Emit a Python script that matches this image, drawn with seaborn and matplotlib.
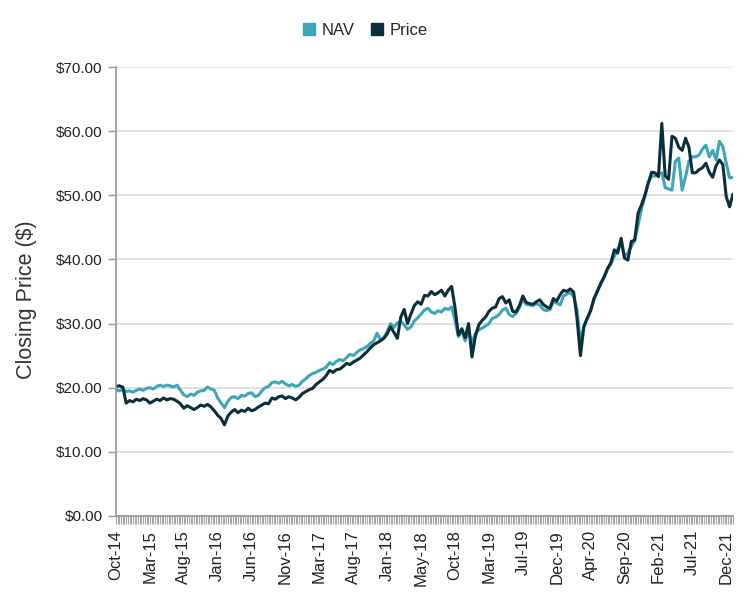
import numpy as np
import pandas as pd
import matplotlib
matplotlib.use("Agg")
import matplotlib.pyplot as plt
import seaborn as sns
from matplotlib.ticker import MultipleLocator, FuncFormatter
from matplotlib.lines import Line2D

tick_labels = ["Oct-14", "Mar-15", "Aug-15", "Jan-16", "Jun-16", "Nov-16", "Mar-17",
               "Aug-17", "Jan-18", "May-18", "Oct-18", "Mar-19", "Jul-19", "Dec-19",
               "Apr-20", "Sep-20", "Feb-21", "Jul-21", "Dec-21"]

nav = [
    19.7, 19.5, 19.8, 19.4, 19.5, 19.3, 19.6, 19.8, 19.6, 19.9,
    20.0, 19.8, 20.2, 20.4, 20.2, 20.4, 20.3, 20.1, 20.4, 19.6,
    18.9, 18.6, 19.0, 18.8, 19.3, 19.5, 19.6, 20.1, 19.8, 19.6,
    18.4, 17.6, 16.9, 17.9, 18.5, 18.6, 18.3, 18.8, 18.7, 19.1,
    19.2, 18.6, 18.8, 19.5, 20.0, 20.2, 20.8, 20.9, 20.7,
    21.0, 20.6, 20.3, 20.5, 20.2, 20.4, 21.0, 21.4, 21.9, 22.2,
    22.4, 22.7, 22.9, 23.2, 23.9, 23.6, 24.1, 24.4, 24.2, 24.7,
    25.2, 25.0, 25.5, 25.9, 26.1, 26.4, 26.9, 27.3, 28.5, 27.5,
    27.8, 28.8, 30.0, 29.4, 30.1, 30.3, 29.8, 29.1, 29.5, 30.4,
    30.9, 31.5, 32.1, 32.4, 31.8, 31.6, 32.0, 31.8, 32.4, 32.2,
    32.6, 30.5, 28.0, 28.8, 27.3, 28.8, 26.9, 28.5, 29.0, 29.3,
    29.6, 30.0, 30.8, 31.0, 31.4, 32.1, 32.4, 31.4, 31.1, 31.6,
    32.5, 33.8, 33.0, 32.9, 32.8, 33.1, 32.9, 32.2, 32.0,
    32.2, 33.4, 33.2, 32.9, 34.3, 34.6, 34.8, 34.2, 32.1, 27.0,
    29.5, 30.9, 32.0, 33.8, 35.2, 36.1, 37.2, 38.5, 39.3, 40.5,
    41.6, 42.5, 40.5, 41.0, 42.0, 43.0, 45.3, 47.9, 49.8, 52.0,
    53.0, 53.0, 53.3, 53.5, 51.2, 51.0, 50.8, 55.3, 55.8, 50.8,
    52.9, 55.3, 56.0, 56.0, 56.3, 57.2, 57.8, 56.0, 57.0, 55.5,
    58.4, 57.6, 55.0, 52.7, 52.8,
]

price = [
    20.2, 20.3, 20.1, 17.6, 18.0, 17.8, 18.2, 18.0, 18.3, 18.1,
    17.6, 17.9, 18.2, 18.0, 18.4, 18.1, 18.3, 18.2, 17.9, 17.5,
    16.8, 17.2, 16.9, 16.6, 16.9, 17.3, 17.1, 17.4, 17.0, 16.4,
    15.7, 15.2, 14.2, 15.6, 16.2, 16.6, 16.1, 16.5, 16.3, 16.8,
    16.4, 16.6, 17.0, 17.3, 17.6, 17.5, 18.4, 18.2, 18.6,
    18.7, 18.3, 18.6, 18.4, 18.1, 18.5, 19.1, 19.4, 19.7, 19.9,
    20.5, 20.9, 21.3, 21.9, 22.7, 22.4, 22.8, 22.9, 23.3, 23.8,
    23.6, 24.0, 24.3, 24.6, 25.1, 25.6, 26.2, 26.7, 27.0, 27.3,
    27.7, 28.4, 29.5, 28.6, 27.7, 31.0, 32.2, 30.0, 31.5, 32.8,
    33.4, 33.0, 34.4, 34.3, 35.0, 34.5, 34.8, 35.2, 34.3, 35.2,
    35.8, 32.5, 28.2, 29.2, 27.8, 30.0, 24.8, 28.0, 29.8, 30.5,
    31.0, 31.9, 32.4, 32.6, 33.9, 34.2, 33.2, 33.7, 31.9, 31.8,
    32.8, 34.3, 33.3, 33.1, 33.0, 33.4, 33.7, 33.0, 32.6,
    32.4, 33.9, 33.5, 34.5, 35.2, 35.0, 35.4, 34.9, 30.8, 25.0,
    29.5, 30.8, 32.0, 33.9, 35.0, 36.3, 37.3, 38.6, 39.5, 41.5,
    41.0, 43.3, 40.2, 39.9, 42.8, 43.0, 47.2, 48.5, 50.0, 51.9,
    53.6, 53.5, 52.9, 61.2, 53.0, 52.5, 59.2, 58.9, 57.5, 57.0,
    58.9, 57.5, 53.5, 53.5, 54.0, 54.3, 55.0, 53.6, 52.8, 54.6,
    55.5, 54.8, 49.8, 48.2, 50.2,
]

series_names = ["NAV", "Price"]
colors = {"NAV": "#3DA6B8", "Price": "#0A2F3A"}

sns.set_theme(style="white")
plt.rcParams["font.family"] = ["Liberation Sans", "DejaVu Sans"]

n = len(price)
idx = np.arange(n)
df = pd.DataFrame({
    "idx": np.concatenate([idx, idx]),
    "value": nav + price,
    "series": ["NAV"] * n + ["Price"] * n,
})

fig = plt.figure(figsize=(7.48, 5.94), dpi=100)
ax = fig.add_axes([116 / 748, 1 - 516 / 594, 617 / 748, 449 / 594])

sns.lineplot(data=df, x="idx", y="value", hue="series", hue_order=series_names,
             palette=colors, linewidth=2.2, ax=ax, legend=False)

ax.set_xlim(0, n - 1)
ax.set_ylim(0, 70)
ax.set_yticks(np.arange(0, 71, 10))
ax.yaxis.set_major_formatter(FuncFormatter(lambda v, p: f"${v:.2f}"))
ax.grid(axis="y", color="#dcdcdc", linewidth=1.2)
ax.grid(axis="x", visible=False)
ax.set_axisbelow(True)

ax.set_xticks(np.arange(len(tick_labels)) * 10)
ax.set_xticklabels(tick_labels, rotation=90, fontsize=12, color="#222222")
ax.xaxis.set_minor_locator(MultipleLocator(0.5))
ax.tick_params(axis="x", which="both", length=6, color="#a8a8a8", width=0.8,
               direction="out", bottom=True, pad=4)
ax.tick_params(axis="y", length=6, color="#999999", width=1, left=True,
               labelsize=11, labelcolor="#222222")

for s in ["top", "right"]:
    ax.spines[s].set_visible(False)
ax.spines["left"].set_color("#999999")
ax.spines["bottom"].set_color("#999999")

ax.set_xlabel("")
ax.set_ylabel("Closing Price ($)", fontsize=15.5, color="#333333")
ax.yaxis.set_label_coords((37 - 116) / 617, 0.481)

handles = [Line2D([], [], linestyle="none", marker="s", markersize=9,
                  markerfacecolor=colors[s], markeredgecolor=colors[s]) for s in series_names]
fig.legend(handles, series_names, loc="center", bbox_to_anchor=(0.487, 0.949), ncol=2,
           frameon=False, fontsize=12, handletextpad=0.3, columnspacing=0.8,
           handlelength=1.0)

fig.savefig("out.png", dpi=100)
